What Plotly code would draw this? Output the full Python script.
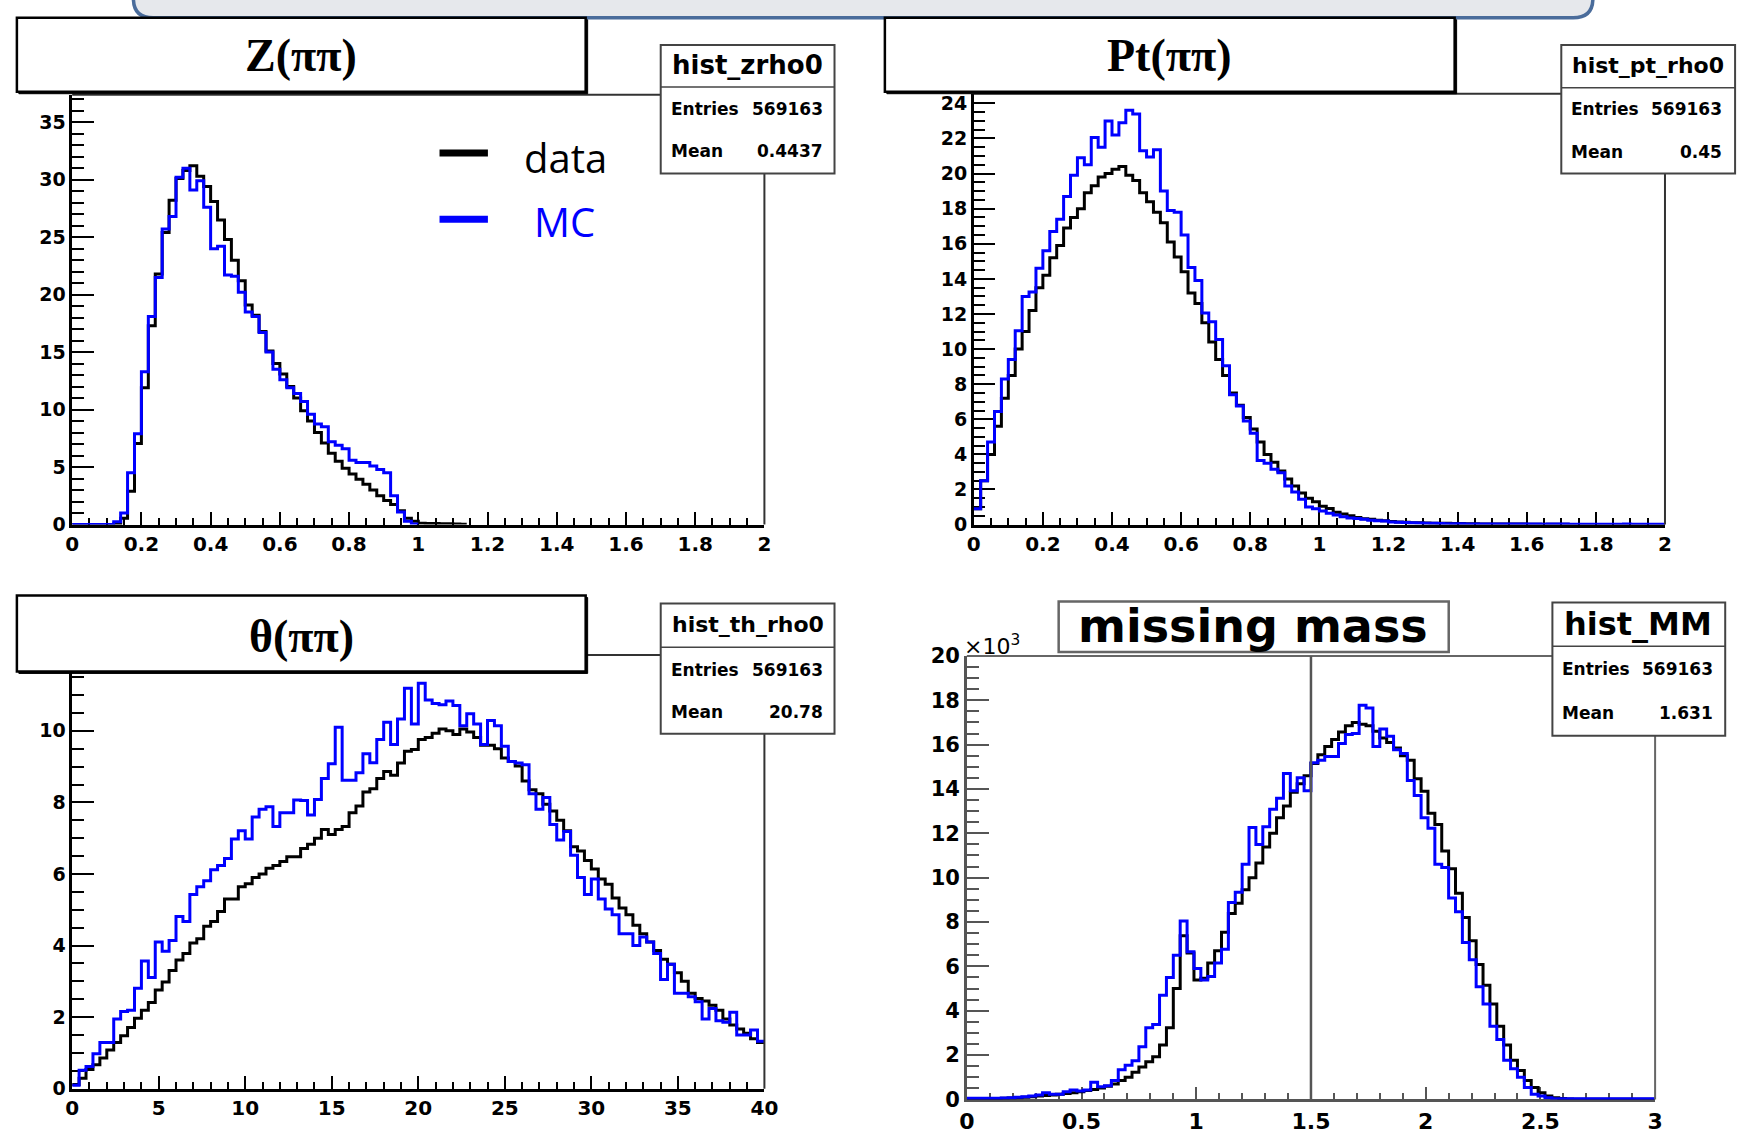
import numpy as np
import plotly.graph_objects as go

FIG_W, FIG_H = 1756, 1134

# ---------------- histogram contents (bin contents, equal-width bins) ----------------
# Z(pi pi): 100 bins on [0, 2]
z_range = (0.0, 2.0)
z_data = [0, 0, 0, 0, 0, 0, 0.05, 0.56, 2.9, 7.06,
          11.9, 17.3, 21.8, 25.4, 28.2, 30.1, 30.8, 31.2, 30.3, 29.4,
          28.1, 26.5, 24.8, 23.0, 21.2, 19.1, 18.2, 16.8, 15.1, 14.0,
          13.1, 12.0, 11.0, 9.9, 9.0, 8.0, 7.1, 6.2, 5.5, 4.9,
          4.4, 3.95, 3.5, 3.0, 2.5, 2.1, 1.75, 1.2, 0.56, 0.3,
          0.12, 0.1, 0.09, 0.08, 0.07, 0.06, 0.04] + [0] * 43
z_mc = [0, 0, 0, 0, 0, 0, 0.25, 1.0, 4.5, 7.9,
        13.3, 18.1, 21.5, 25.7, 26.8, 30.2, 31.0, 29.1, 29.9, 27.6,
        24.0, 24.2, 21.7, 21.6, 20.2, 18.5, 18.1, 16.7, 15.0, 13.5,
        12.6, 11.9, 11.4, 10.7, 9.6, 8.75, 8.5, 7.2, 6.9, 6.6,
        5.6, 5.4, 5.4, 5.1, 4.8, 4.5, 2.5, 1.1, 0.3, 0.05] + [0] * 50

# Pt(pi pi): 100 bins on [0, 2]
pt_range = (0.0, 2.0)
pt_data = [0.9, 2.5, 4.0, 5.6, 7.2, 8.5, 10.0, 11.0, 12.2, 13.5,
           14.2, 15.2, 15.9, 16.9, 17.5, 18.0, 18.9, 19.3, 19.8, 20.0,
           20.25, 20.4, 19.9, 19.6, 18.9, 18.4, 17.8, 17.2, 16.1, 15.25,
           14.4, 13.2, 12.6, 11.5, 10.4, 9.4, 8.5, 7.5, 6.8, 6.1,
           5.45, 4.7, 4.0, 3.55, 3.05, 2.6, 2.2, 1.8, 1.5, 1.3,
           1.05, 0.92, 0.7, 0.6, 0.5, 0.4, 0.33, 0.3, 0.25, 0.22,
           0.18, 0.15, 0.13, 0.11, 0.1, 0.09, 0.08, 0.08, 0.07, 0.06,
           0.06, 0.05, 0.05, 0.04, 0.04, 0.04, 0.03, 0.03, 0.03, 0.03,
           0.02, 0.02, 0.02, 0.02, 0.02, 0.02, 0.01, 0.01, 0.01, 0.01,
           0.01, 0.01, 0.01, 0.01, 0.01, 0.01, 0.01, 0.01, 0.01, 0.01]
pt_mc = [0.9, 2.5, 4.7, 6.45, 8.3, 9.4, 11.05, 13.0, 13.25, 14.6,
         15.6, 16.7, 17.4, 18.7, 19.9, 20.9, 20.5, 22.05, 21.5, 23.0,
         22.2, 22.9, 23.6, 23.4, 21.3, 20.95, 21.35, 19.0, 17.9, 17.8,
         16.5, 14.65, 13.9, 12.05, 11.55, 10.55, 9.05, 7.4, 6.75, 5.9,
         5.2, 3.65, 3.5, 3.15, 2.95, 2.2, 1.85, 1.45, 1.0, 0.9,
         0.78, 0.65, 0.55, 0.45, 0.38, 0.35, 0.3, 0.25, 0.22, 0.2,
         0.15, 0.14, 0.12, 0.11, 0.09, 0.08, 0.07, 0.06, 0.05, 0.05,
         0.05, 0.04, 0.04, 0.04, 0.04, 0.03, 0.03, 0.03, 0.03, 0.03,
         0.03, 0.03, 0.02, 0.03, 0.03, 0.03, 0.02, 0.02, 0.02, 0.02,
         0.02, 0.02, 0.02, 0.02, 0.03, 0.02, 0.02, 0.02, 0.02, 0.02]

# theta(pi pi): 100 bins on [0, 40]
th_range = (0.0, 40.0)
th_data = [0.12, 0.29, 0.54, 0.67, 0.86, 1.08, 1.29, 1.48, 1.71, 1.97,
           2.19, 2.41, 2.76, 2.98, 3.30, 3.60, 3.78, 4.07, 4.19, 4.54,
           4.67, 4.95, 5.30, 5.30, 5.64, 5.73, 5.90, 6.00, 6.16, 6.24,
           6.35, 6.48, 6.48, 6.71, 6.83, 7.00, 7.24, 7.10, 7.24, 7.33,
           7.71, 7.90, 8.29, 8.38, 8.67, 8.86, 8.76, 9.10, 9.43, 9.48,
           9.76, 9.81, 9.93, 10.05, 10.00, 9.90, 10.05, 9.97, 9.81, 9.60,
           9.60, 9.50, 9.24, 9.14, 9.02, 8.60, 8.35, 8.24, 7.95, 7.76,
           7.50, 7.21, 6.76, 6.64, 6.38, 6.14, 5.86, 5.71, 5.33, 5.05,
           4.86, 4.57, 4.33, 4.10, 3.86, 3.62, 3.48, 3.24, 3.00, 2.67,
           2.52, 2.45, 2.33, 2.19, 1.95, 1.78, 1.67, 1.55, 1.40, 1.29]
th_mc = [0.10, 0.52, 0.62, 0.98, 1.29, 1.29, 1.95, 2.16, 2.19, 2.81,
         3.57, 3.11, 4.10, 3.84, 4.14, 4.81, 4.67, 5.43, 5.64, 5.81,
         6.12, 6.24, 6.43, 6.98, 7.21, 6.98, 7.59, 7.81, 7.88, 7.33,
         7.71, 7.71, 8.07, 8.05, 7.65, 8.08, 8.67, 9.08, 10.10, 8.62,
         8.62, 8.83, 9.36, 9.11, 9.76, 10.24, 9.62, 10.33, 11.19, 10.19,
         11.33, 10.86, 10.76, 10.73, 10.83, 10.71, 10.14, 10.48, 10.19, 9.62,
         10.29, 10.14, 9.57, 9.14, 9.10, 9.05, 8.24, 7.81, 8.14, 7.38,
         6.95, 7.19, 6.52, 5.90, 5.43, 5.86, 5.30, 5.02, 4.86, 4.33,
         4.33, 4.00, 4.24, 4.10, 3.78, 3.05, 3.48, 2.67, 2.67, 2.57,
         2.43, 1.95, 2.24, 1.90, 1.86, 2.14, 1.50, 1.50, 1.64, 1.33]

# missing mass: 100 bins on [0, 3], contents in units of 10^3
mm_range = (0.0, 3.0)
mm_data = [0.02, 0.02, 0.03, 0.03, 0.04, 0.05, 0.06, 0.08, 0.1, 0.12,
           0.15, 0.18, 0.2, 0.23, 0.27, 0.3, 0.35, 0.4, 0.45, 0.52,
           0.6, 0.7, 0.85, 1.0, 1.23, 1.46, 1.7, 1.92, 2.46, 3.23,
           5.0, 7.38, 6.6, 5.38, 5.46, 6.15, 6.7, 7.54, 8.38, 8.85,
           9.46, 10.0, 10.66, 11.38, 12.0, 12.7, 13.23, 13.85, 14.23, 14.6,
           15.15, 15.54, 15.92, 16.23, 16.57, 16.85, 17.0, 16.92, 16.85, 16.6,
           16.3, 16.1, 15.85, 15.5, 15.3, 14.46, 13.9, 12.9, 12.4, 11.2,
           10.4, 9.3, 8.2, 7.15, 6.08, 5.15, 4.3, 3.3, 2.46, 1.77,
           1.3, 0.85, 0.54, 0.3, 0.15, 0.08, 0.04, 0.02, 0.01, 0.01,
           0.01, 0.01, 0.01, 0.01, 0.01, 0.01, 0.01, 0.01, 0.01, 0.01]
mm_mc = [0.05, 0.05, 0.05, 0.05, 0.05, 0.06, 0.08, 0.1, 0.12, 0.15,
         0.2, 0.3, 0.23, 0.23, 0.35, 0.42, 0.38, 0.42, 0.77, 0.57,
         0.62, 0.85, 1.34, 1.54, 1.74, 2.38, 3.23, 3.38, 4.7, 5.5,
         6.5, 8.05, 6.66, 5.9, 5.38, 5.54, 6.15, 6.77, 8.88, 9.34,
         10.6, 12.26, 11.5, 12.3, 13.08, 13.58, 14.7, 13.92, 14.5, 13.92,
         15.18, 15.3, 15.46, 15.46, 16.05, 16.46, 16.5, 17.77, 17.65, 15.92,
         16.7, 16.38, 15.77, 15.6, 14.38, 13.7, 12.7, 12.23, 10.6, 10.46,
         9.08, 8.46, 7.08, 6.3, 5.08, 4.3, 3.3, 2.7, 1.77, 1.38,
         1.0, 0.54, 0.23, 0.15, 0.08, 0.03, 0.03, 0.03, 0.03, 0.03,
         0.03, 0.03, 0.03, 0.03, 0.03, 0.03, 0.03, 0.03, 0.03, 0.03]

# statistics box entries
hist_names = ["hist_zrho0", "hist_pt_rho0", "hist_th_rho0", "hist_MM"]
hist_entries = ["569163", "569163", "569163", "569163"]
hist_means = ["0.4437", "0.45", "20.78", "1.631"]
panel_titles = ["Z(ππ)", "Pt(ππ)", "θ(ππ)", "missing mass"]
legend_labels = ["data", "MC"]

DATA_COLOR = "#000000"
MC_COLOR = "#0000ff"
ROOT_FONT = "DejaVu Sans"


# positions below are given in figure pixels; convert to paper coordinates
def px(x):
    return x / FIG_W


def py(y):
    return 1 - y / FIG_H


def step_xy(lo, hi, vals, trim_tail=False):
    """Outline of a histogram (ROOT 'HIST' style, not closed at the ends)."""
    v = list(vals)
    if trim_tail:
        while len(v) > 1 and v[-1] == 0:
            v.pop()
    n = len(vals)
    edges = np.linspace(lo, hi, n + 1)
    xs = list(edges[:len(v) + 1])
    ys = v + [v[-1]]
    return xs, ys


panels = [
    dict(rng=z_range, data=z_data, mc=z_mc, trim=True,
         xd=(65, 766), yd=(85, 527), yr=(0, 37.39),
         xdt=0.2, xmn=0.05, ydt=5, ymn=1, col="black", fx=20, fy=19),
    dict(rng=pt_range, data=pt_data, mc=pt_mc, trim=False,
         xd=(978, 1678), yd=(84, 527), yr=(0, 24.55),
         xdt=0.2, xmn=0.05, ydt=2, ymn=0.5, col="black", fx=20, fy=19),
    dict(rng=th_range, data=th_data, mc=th_mc, trim=False,
         xd=(65, 766), yd=(661, 1107), yr=(0, 12.12),
         xdt=5, xmn=1, ydt=2, ymn=0.5, col="black", fx=20, fy=19),
    dict(rng=mm_range, data=mm_data, mc=mm_mc, trim=False,
         xd=(971, 1668), yd=(662, 1118), yr=(0, 20),
         xdt=0.5, xmn=0.1, ydt=2, ymn=0.5, col="#555555", fx=22, fy=21),
]

fig = go.Figure()
layout_axes = {}

for k, p in enumerate(panels, start=1):
    xname = "x" if k == 1 else f"x{k}"
    yname = "y" if k == 1 else f"y{k}"
    lo, hi = p["rng"]
    for vals, color in ((p["data"], DATA_COLOR), (p["mc"], MC_COLOR)):
        xs, ys = step_xy(lo, hi, vals, trim_tail=p["trim"])
        fig.add_trace(go.Scatter(
            x=xs, y=ys, mode="lines",
            line=dict(color=color, width=3, shape="hv"),
            xaxis=xname, yaxis=yname, showlegend=False, hoverinfo="skip"))

    common = dict(showline=True, linecolor=p["col"], linewidth=2.5,
                  ticks="inside", tickwidth=2, tickcolor=p["col"],
                  showgrid=False, zeroline=False, layer="below traces",
                  fixedrange=True, tick0=0)
    layout_axes["xaxis" if k == 1 else f"xaxis{k}"] = dict(
        domain=[px(p["xd"][0]), px(p["xd"][1])], range=[lo, hi],
        anchor=yname, dtick=p["xdt"], ticklen=13,
        tickfont=dict(family=ROOT_FONT, size=p["fx"], color="black", weight="bold"),
        minor=dict(dtick=p["xmn"], ticks="inside", ticklen=7, tickwidth=2,
                   tickcolor=p["col"], showgrid=False),
        **common)
    layout_axes["yaxis" if k == 1 else f"yaxis{k}"] = dict(
        domain=[py(p["yd"][1]), py(p["yd"][0])], range=list(p["yr"]),
        anchor=xname, dtick=p["ydt"], ticklen=22,
        tickfont=dict(family=ROOT_FONT, size=p["fy"], color="black", weight="bold"),
        minor=dict(dtick=p["ymn"], ticks="inside", ticklen=12, tickwidth=2,
                   tickcolor=p["col"], showgrid=False),
        **common)

shapes = []


def line_px(x0, y0, x1, y1, color, width):
    shapes.append(dict(type="line", xref="paper", yref="paper",
                       x0=px(x0), y0=py(y0), x1=px(x1), y1=py(y1),
                       line=dict(color=color, width=width), layer="above"))


def rect_px(x0, y0, x1, y1, line_color, width, fill="white"):
    shapes.append(dict(type="rect", xref="paper", yref="paper",
                       x0=px(x0), y0=py(y1), x1=px(x1), y1=py(y0),
                       line=dict(color=line_color, width=width),
                       fillcolor=fill, layer="above"))


# banner edge at the top of the page (rounded lower corners)
bx0, bx1, by_top, by_bot, r = 127, 1605, -30, 6, 20
banner = (f"M {px(bx0)},{py(by_top)} L {px(bx0)},{py(by_bot - r)} "
          f"Q {px(bx0)},{py(by_bot)} {px(bx0 + r)},{py(by_bot)} "
          f"L {px(bx1 - r)},{py(by_bot)} "
          f"Q {px(bx1)},{py(by_bot)} {px(bx1)},{py(by_bot - r)} "
          f"L {px(bx1)},{py(by_top)} Z")
shapes.append(dict(type="path", xref="paper", yref="paper", path=banner,
                   fillcolor="#e6e8ec", line=dict(color="#4a6c9b", width=3.5),
                   layer="above"))

# top and right frame edges
for p in panels:
    (x0, x1), (y0, y1) = p["xd"], p["yd"]
    fc = "#333333" if p["col"] == "black" else "#666666"
    line_px(x0, y0, x1, y0, fc, 2)
    line_px(x1, y0, x1, y1, fc, 2)

# separator line at 1.5 in the missing-mass panel
shapes.append(dict(type="line", xref="x4", yref="y4", x0=1.5, x1=1.5, y0=0, y1=20,
                   line=dict(color="#555555", width=2.5), layer="above"))

# title boxes (with a small drop shadow)
title_boxes = [(9, 6, 585, 82), (888, 6, 1465, 82), (9, 600, 585, 678)]
for (x0, y0, x1, y1) in title_boxes:
    rect_px(x0 + 2, y0 + 2, x1 + 2, y1 + 2, "black", 1, fill="black")
    rect_px(x0, y0, x1, y1, "black", 2.5)
rect_px(1064, 606, 1459, 658, "#666666", 2.5)

# statistics boxes
stat_boxes = [(661, 34, 837, 166, 77), (1573, 34, 1749, 166, 78),
              (661, 608, 837, 742, 653), (1564, 607, 1739, 744, 652)]
for (x0, y0, x1, y1, yd) in stat_boxes:
    col = "#444444"
    rect_px(x0, y0, x1, y1, col, 2)
    line_px(x0, yd, x1, yd, col, 1.5)

# legend markers
line_px(437, 145, 486, 145, DATA_COLOR, 7)
line_px(437, 213, 486, 213, MC_COLOR, 7)

annotations = []


def text_px(x, y, s, size, family, color="black", anchor="center", weight="normal"):
    annotations.append(dict(xref="paper", yref="paper", x=px(x), y=py(y), text=s,
                            showarrow=False, xanchor=anchor, yanchor="middle",
                            font=dict(family=family, size=size, color=color, weight=weight)))


# panel titles
serif = "Liberation Serif"
text_px(297, 45, panel_titles[0], 46, serif, weight="bold")
text_px(1176, 45, panel_titles[1], 46, serif, weight="bold")
text_px(297, 642, panel_titles[2], 46, serif, weight="bold")
text_px(1261, 631, panel_titles[3], 46, ROOT_FONT, weight="bold")

# statistics text (the name line is sized to fill the box width)
stat_rows = [
    dict(cx=749, ny=55, l=669, r=827, ey=100, my=143, ns=26, es=17),
    dict(cx=1661, ny=55, l=1581, r=1738, ey=100, my=144, ns=22, es=17),
    dict(cx=749, ny=630, l=669, r=827, ey=676, my=720, ns=22, es=17),
    dict(cx=1651, ny=629, l=1572, r=1729, ey=675, my=721, ns=32, es=17),
]
for i, s in enumerate(stat_rows):
    text_px(s["cx"], s["ny"], hist_names[i], s["ns"], ROOT_FONT, weight="bold")
    text_px(s["l"], s["ey"], "Entries", s["es"], ROOT_FONT, anchor="left", weight="bold")
    text_px(s["r"], s["ey"], hist_entries[i], s["es"], ROOT_FONT, anchor="right", weight="bold")
    text_px(s["l"], s["my"], "Mean", s["es"], ROOT_FONT, anchor="left", weight="bold")
    text_px(s["r"], s["my"], hist_means[i], s["es"], ROOT_FONT, anchor="right", weight="bold")

# legend text
text_px(565, 150, legend_labels[0], 40, "Open Sans", color=DATA_COLOR)
text_px(564, 215, legend_labels[1], 40, "Open Sans", color=MC_COLOR)

# axis multiplier of the missing-mass panel
text_px(966, 651, "×10<sup>3</sup>", 22, ROOT_FONT, anchor="left")

fig.update_layout(
    width=FIG_W, height=FIG_H,
    margin=dict(l=0, r=0, t=0, b=0),
    paper_bgcolor="white", plot_bgcolor="white",
    showlegend=False,
    shapes=shapes, annotations=annotations,
    **layout_axes)

fig.write_html("out.html")
